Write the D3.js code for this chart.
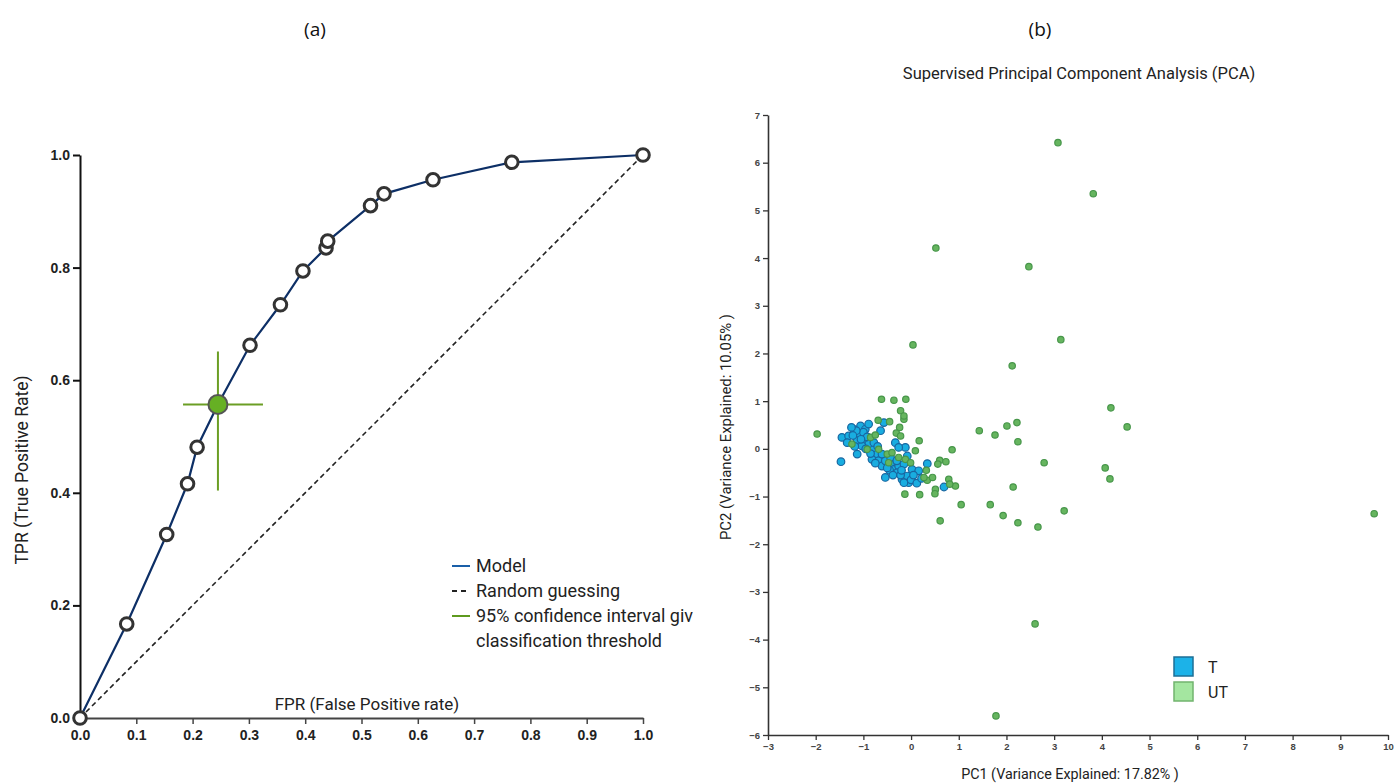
<!DOCTYPE html>
<html>
<head>
<meta charset="utf-8">
<script src="https://cdn.jsdelivr.net/npm/d3@7"></script>
<style>
  body { margin: 0; background: #fff; }
  svg { display: block; }
</style>
</head>
<body>
<div id="chart"></div>
<script>
// ROC curve (panel a)
const rocFpr = [0, 0.083, 0.154, 0.191, 0.208, 0.245, 0.302, 0.356, 0.396, 0.437, 0.440, 0.516, 0.540, 0.627, 0.767, 1.0];
const rocTpr = [0, 0.167, 0.326, 0.416, 0.481, 0.557, 0.662, 0.734, 0.794, 0.835, 0.847, 0.910, 0.931, 0.956, 0.987, 1.0];
const bestFpr = 0.245;
const bestTpr = 0.557;
const ciFpr = [0.183, 0.325];
const ciTpr = [0.404, 0.651];
const rocTicksX = [0, 0.1, 0.2, 0.3, 0.4, 0.5, 0.6, 0.7, 0.8, 0.9, 1.0];
const rocTicksY = [0, 0.2, 0.4, 0.6, 0.8, 1.0];
const rocLegend = ["Model", "Random guessing", "95% confidence interval given the", "classification threshold"];

// PCA scatter (panel b)
const tX = [-1.47, -1.45, -1.31, -1.20, -1.06, -0.96, -1.10, -1.13, -0.99, -0.89, -1.03, -1.13, -0.78, -0.71, -0.82,
  -0.68, -0.61, -0.54, -0.43, -0.36, -0.26, -0.29, -0.15, -0.08, -0.12, -0.33, -0.57, -0.64, -0.54, -0.19,
  -0.08, 0.02, 0.34, 0.16, -0.05, -0.15, 0.69, -0.89, -0.78, -0.26, -1.34, -0.61, -0.43, -1.00, -0.92,
  -1.15, -0.45, -0.38, -0.22, 0.00, 0.12, -1.22, -0.70, -1.25, -1.05, -0.95, -0.85, -0.50, -0.30,
  -0.20, 0.05, 0.22, -1.18, -0.75];
const tY = [-0.27, 0.24, 0.27, 0.41, 0.48, 0.41, 0.31, 0.17, 0.17, 0.10, 0.06, -0.11, -0.01, -0.11, -0.22,
  -0.25, -0.36, -0.25, -0.32, -0.43, -0.36, -0.50, -0.32, -0.15, 0.03, 0.13, 0.55, 0.38, -0.60, -0.64,
  -0.57, -0.43, -0.31, -0.46, -0.71, -0.71, -0.80, 0.52, 0.13, 0.03, 0.13, -0.11, -0.18, 0.35, 0.25,
  0.38, -0.45, -0.55, -0.55, -0.65, -0.72, 0.28, 0.05, 0.45, 0.20, 0.00, -0.10, -0.40, -0.25,
  -0.45, -0.55, -0.62, 0.05, -0.30];
const utX = [3.08, 3.82, 0.52, 2.47, 3.14, 0.04, 2.12, 4.19, 4.53, 1.43, 1.76, 2.01, 2.22, 2.24, 2.79,
  4.07, 4.17, 2.14, 3.21, 1.66, 1.93, 2.24, 2.66, 1.05, 0.61, 2.60, 1.78, 9.71, -1.97,
  -0.62, -0.36, -0.11, -0.22, -0.15, -0.69, -0.45, -0.24, -0.31, 0.17, 0.09, 0.86, 0.60, 0.73, 0.56,
  0.32, 0.34, 0.45, 0.79, 0.93, 0.81, 0.51, 0.50, -0.13, 0.18, -0.85, -0.75, -1.24, -0.92, -0.68,
  -0.50, -0.40, -0.26, -0.47, -0.12, -0.01, -0.22, 0.27, -0.15];
const utY = [6.42, 5.35, 4.21, 3.82, 2.29, 2.18, 1.74, 0.86, 0.46, 0.38, 0.29, 0.48, 0.55, 0.15, -0.29,
  -0.40, -0.63, -0.80, -1.30, -1.17, -1.40, -1.55, -1.64, -1.17, -1.51, -3.67, -5.60, -1.36, 0.31,
  1.04, 1.02, 1.04, 0.80, 0.62, 0.60, 0.57, 0.45, 0.33, 0.17, -0.04, -0.02, -0.24, -0.27, -0.32,
  -0.45, -0.66, -0.60, -0.64, -0.78, -0.74, -0.85, -0.94, -0.95, -0.96, 0.24, 0.29, 0.10, -0.01, -0.01,
  -0.11, -0.08, -0.18, -0.29, -0.22, -0.29, 0.27, -0.60, 0.69];
const pcaTicksX = d3.range(-3, 11);
const pcaTicksY = d3.range(-6, 8);
const pcaGroups = ["T", "UT"];

const W = 1395, H = 783;
const svg = d3.select("#chart").append("svg").attr("width", W).attr("height", H);

// panel labels
svg.append("text").text("(a)").attr("x", 315).attr("y", 36).attr("text-anchor", "middle")
  .attr("font-family", "Open Sans, sans-serif").attr("font-size", 19).attr("fill", "#111");
svg.append("text").text("(b)").attr("x", 1040).attr("y", 36).attr("text-anchor", "middle")
  .attr("font-family", "Open Sans, sans-serif").attr("font-size", 19).attr("fill", "#111");

// ---------- panel a ----------
const xA = d3.scaleLinear().domain([0, 1]).range([80, 643]);
const yA = d3.scaleLinear().domain([0, 1]).range([718, 155]);
const tickFont = "'Liberation Sans Narrow', 'Liberation Sans', Arial, sans-serif";

const axA = svg.append("g").attr("transform", "translate(0,718)")
  .call(d3.axisBottom(xA).tickValues(rocTicksX).tickFormat(d3.format(".1f")).tickSize(6).tickSizeOuter(0));
axA.select(".domain").attr("stroke", "#444").attr("stroke-width", 2);
axA.selectAll(".tick line").attr("stroke", "#444").attr("stroke-width", 1.5);
axA.selectAll(".tick text").attr("font-family", tickFont).attr("font-weight", 700)
  .attr("font-size", 14).attr("fill", "#222").attr("dy", "0.9em");

const ayA = svg.append("g").attr("transform", "translate(80,0)")
  .call(d3.axisLeft(yA).tickValues(rocTicksY).tickFormat(d3.format(".1f")).tickSize(7).tickSizeOuter(0));
ayA.select(".domain").attr("stroke", "#111").attr("stroke-width", 2);
ayA.selectAll(".tick line").attr("stroke", "#111").attr("stroke-width", 2);
ayA.selectAll(".tick text").attr("font-family", tickFont).attr("font-weight", 700)
  .attr("font-size", 14).attr("fill", "#222");

svg.append("text").text("TPR (True Positive Rate)")
  .attr("transform", "translate(28,470) rotate(-90)").attr("text-anchor", "middle")
  .attr("font-family", "Roboto, sans-serif").attr("font-size", 17.5).attr("fill", "#222");
svg.append("text").text("FPR (False Positive rate)")
  .attr("x", 367).attr("y", 710).attr("text-anchor", "middle")
  .attr("font-family", "Roboto, sans-serif").attr("font-size", 17).attr("fill", "#222");

// random guessing diagonal
svg.append("line")
  .attr("x1", xA(0)).attr("y1", yA(0)).attr("x2", xA(1)).attr("y2", yA(1))
  .attr("stroke", "#222").attr("stroke-width", 1.6).attr("stroke-dasharray", "5,3.5");

const rocPts = rocFpr.map((f, i) => [f, rocTpr[i]]);
svg.append("path").datum(rocPts)
  .attr("d", d3.line().x(d => xA(d[0])).y(d => yA(d[1])))
  .attr("fill", "none").attr("stroke", "#0d2f66").attr("stroke-width", 2.2);

// confidence interval cross
svg.append("line").attr("x1", xA(ciFpr[0])).attr("x2", xA(ciFpr[1]))
  .attr("y1", yA(bestTpr)).attr("y2", yA(bestTpr)).attr("stroke", "#6b9e24").attr("stroke-width", 2);
svg.append("line").attr("x1", xA(bestFpr)).attr("x2", xA(bestFpr))
  .attr("y1", yA(ciTpr[0])).attr("y2", yA(ciTpr[1])).attr("stroke", "#6b9e24").attr("stroke-width", 2);

svg.append("g").selectAll("circle").data(rocPts.filter(d => d[0] !== bestFpr)).join("circle")
  .attr("cx", d => xA(d[0])).attr("cy", d => yA(d[1])).attr("r", 6.3)
  .attr("fill", "#fff").attr("stroke", "#333").attr("stroke-width", 3);

svg.append("circle").attr("cx", xA(bestFpr)).attr("cy", yA(bestTpr)).attr("r", 9.5)
  .attr("fill", "#66b024").attr("stroke", "#555").attr("stroke-width", 2);

// legend a
svg.append("clipPath").attr("id", "legClip").append("rect")
  .attr("x", 440).attr("y", 540).attr("width", 253).attr("height", 120);
const legA = svg.append("g").attr("clip-path", "url(#legClip)");
const legRowsY = [566, 591, 616, 641];
const legStroke = ["#1a5fa8", "#222", "#5e9a1e", null];
legRowsY.forEach((y, i) => {
  if (legStroke[i]) {
    legA.append("line").attr("x1", 452).attr("x2", 470).attr("y1", y).attr("y2", y)
      .attr("stroke", legStroke[i]).attr("stroke-width", 2)
      .attr("stroke-dasharray", i === 1 ? "5,4" : null);
  }
  legA.append("text").text(rocLegend[i]).attr("x", 476).attr("y", y + 6)
    .attr("font-family", "Roboto, sans-serif").attr("font-size", 18).attr("fill", "#222");
});

// ---------- panel b ----------
const xB = d3.scaleLinear().domain([-3, 10]).range([768, 1388]);
const yB = d3.scaleLinear().domain([-6, 7]).range([735, 115]);

svg.append("text").text("Supervised Principal Component Analysis (PCA)")
  .attr("x", 1079).attr("y", 79).attr("text-anchor", "middle")
  .attr("font-family", "Roboto, sans-serif").attr("font-size", 16.5).attr("fill", "#222");

const axB = svg.append("g").attr("transform", "translate(0,735)")
  .call(d3.axisBottom(xB).tickValues(pcaTicksX).tickSize(5).tickSizeOuter(0));
const ayB = svg.append("g").attr("transform", "translate(768,0)")
  .call(d3.axisLeft(yB).tickValues(pcaTicksY).tickSize(5).tickSizeOuter(0));
[axB, ayB].forEach(g => {
  g.select(".domain").attr("stroke", "#333").attr("stroke-width", 1.6);
  g.selectAll(".tick line").attr("stroke", "#333").attr("stroke-width", 1.3);
  g.selectAll(".tick text").attr("font-family", "'Liberation Sans', Arial, sans-serif")
    .attr("font-weight", 700).attr("font-size", 9.5).attr("fill", "#444");
});

svg.append("text").text("PC2 (Variance Explained: 10.05% )")
  .attr("transform", "translate(731,427) rotate(-90)").attr("text-anchor", "middle")
  .attr("textLength", 226).attr("lengthAdjust", "spacingAndGlyphs")
  .attr("font-family", "Roboto, sans-serif").attr("font-size", 14).attr("fill", "#222");
svg.append("text").text("PC1 (Variance Explained: 17.82% )")
  .attr("x", 1070).attr("y", 779).attr("text-anchor", "middle")
  .attr("font-family", "Roboto, sans-serif").attr("font-size", 14.3).attr("fill", "#222");

const tPts = tX.map((x, i) => [x, tY[i]]);
const utPts = utX.map((x, i) => [x, utY[i]]);

svg.append("g").selectAll("circle").data(tPts).join("circle")
  .attr("cx", d => xB(d[0])).attr("cy", d => yB(d[1])).attr("r", 3.8)
  .attr("fill", "#19ade0").attr("stroke", "#1866a0").attr("stroke-width", 1.2);
svg.append("g").selectAll("circle").data(utPts).join("circle")
  .attr("cx", d => xB(d[0])).attr("cy", d => yB(d[1])).attr("r", 3.2)
  .attr("fill", "#66b55f").attr("stroke", "#47964a").attr("stroke-width", 1.2);

// legend b
const legFill = ["#1cb2e8", "#a4e6a0"];
const legEdge = ["#1d6f96", "#72b46e"];
pcaGroups.forEach((g, i) => {
  const y = 657 + i * 25;
  svg.append("rect").attr("x", 1174).attr("y", y).attr("width", 19).attr("height", 19)
    .attr("fill", legFill[i]).attr("stroke", legEdge[i]).attr("stroke-width", 1.5);
  svg.append("text").text(g).attr("x", 1208).attr("y", y + 16)
    .attr("font-family", "Roboto, sans-serif").attr("font-size", 16).attr("fill", "#222");
});
</script>
</body>
</html>
